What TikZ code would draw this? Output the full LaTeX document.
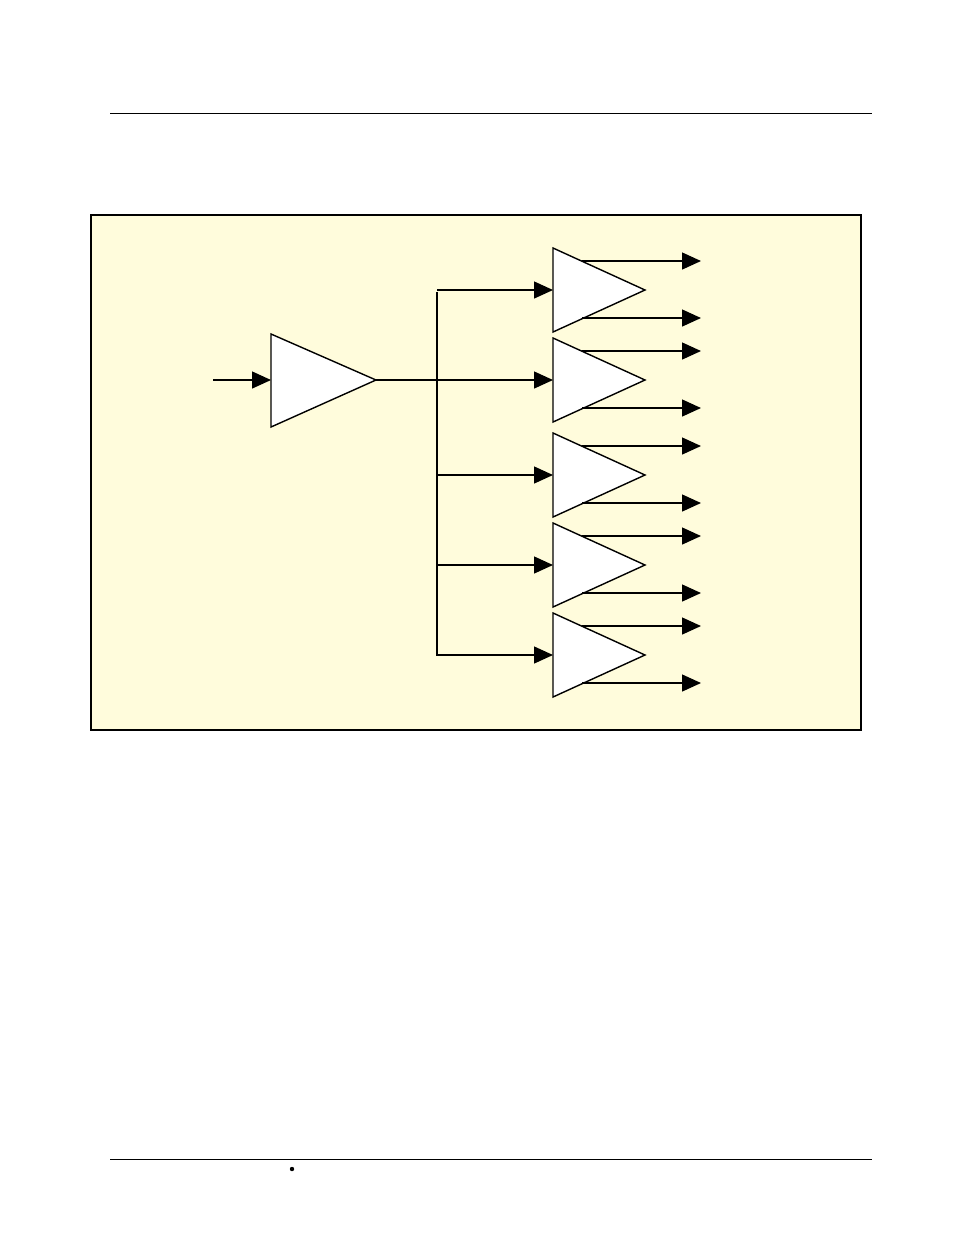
\documentclass[tikz,border=0pt]{standalone}
\usepackage{tikz}
\usetikzlibrary{calc,positioning}
\usetikzlibrary{arrows.meta}
\definecolor{panelyellow}{RGB}{255,252,220}
\begin{document}
\begin{tikzpicture}[x=0.02cm,y=-0.02cm]
      \tikzstyle{wire} = [thick, -{Triangle[length=0.38cm, width=0.34cm]}]
      \tikzstyle{amp} = [thick, fill=white, draw=black]
      \useasboundingbox (0,0) rectangle (954,1235);
      % page rules
      \draw[thin] (110,113) -- (872,113);
      \draw[thin] (110,1159) -- (872,1159);
      \fill (292,1169) circle (2.2);
      % panel
      \draw[thick, fill=panelyellow] (91,215) rectangle (861,730);
      % main buffer
      \draw[amp] (271,334) -- (376,380) -- (271,427) -- cycle;
      \coordinate (min) at (271,380);
      \coordinate (mout) at (376,380);
      \coordinate (src) at (213,380);
      \coordinate (bus) at (437,380);
      \coordinate (bustop) at (437,292);
      \coordinate (busbot) at (437,656);
      \draw[wire] (src) -- (min);
      \draw[thick] (mout) -- (bus);
      \draw[thick] (bustop) -- (busbot);
      % fan-out buffers
      \foreach \name/\y in {fa/290, fb/380, fc/475, fd/565, fe/655} {
        \draw[amp] (553,\y-42) -- (645,\y) -- (553,\y+42) -- cycle;
        \coordinate (\name-in) at (553,\y);
        \coordinate (\name-tap) at (437,\y);
        \draw[wire] (\name-tap) -- (\name-in);
        \coordinate (\name-u) at (582,\y-29);
        \coordinate (\name-d) at (582,\y+28);
        \draw[wire] (\name-u) -- ++(119,0);
        \draw[wire] (\name-d) -- ++(119,0);
      }
    \end{tikzpicture}
\end{document}
